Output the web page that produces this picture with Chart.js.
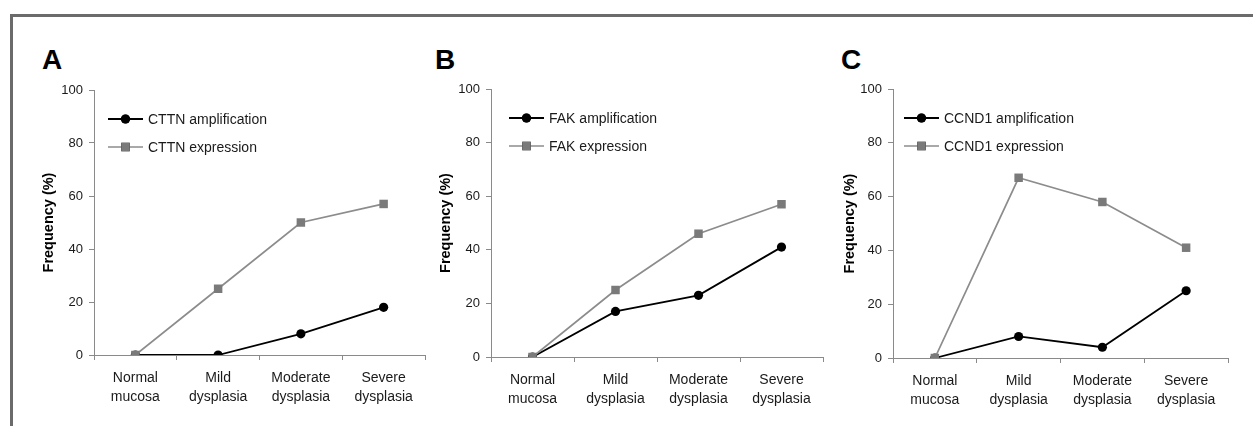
<!DOCTYPE html>
<html>
<head>
<meta charset="utf-8">
<script src="https://cdn.jsdelivr.net/npm/chart.js@4.4.1/dist/chart.umd.min.js"></script>
<style>
  html, body { margin: 0; padding: 0; background: #fff; overflow: hidden; }
  body { width: 1253px; height: 426px; position: relative; font-family: 'Liberation Sans', Arial, sans-serif; }
  .frame { position: absolute; left: 10px; top: 14px; right: 0; bottom: 0; border-top: 3px solid #6b6b6b; border-left: 3px solid #6b6b6b; }
  .letter { position: absolute; font-weight: bold; font-size: 28px; line-height: 28px; color: #000; }
  canvas { position: absolute; }
</style>
</head>
<body>
<div class="frame"></div>
<div class="letter" style="left:42px;top:46px">A</div>
<div class="letter" style="left:435px;top:46px">B</div>
<div class="letter" style="left:841px;top:46px">C</div>
<canvas id="chartA"></canvas>
<canvas id="chartB"></canvas>
<canvas id="chartC"></canvas>
<script>
// stages of the lesion, two lines per label
const stages = [['Normal', 'mucosa'], ['Mild', 'dysplasia'], ['Moderate', 'dysplasia'], ['Severe', 'dysplasia']];

// frequency (%) per stage
const cttnAmplification = [0, 0, 8, 18];
const cttnExpression = [0, 25, 50, 57];
const fakAmplification = [0, 17, 23, 41];
const fakExpression = [0, 25, 46, 57];
const ccnd1Amplification = [0, 8, 4, 25];
const ccnd1Expression = [0, 67, 58, 41];

const FONT = "'Liberation Sans', Arial, sans-serif";
const AXIS_GRAY = '#8a8a8a';
const Y_WIDTH = 74;   // room left of the y axis
const X_HEIGHT = 71;  // room below the x axis
const PAD_TOP = 29;

// little legend in the top-left corner of the plot
const cornerLegend = {
    id: 'cornerLegend',
    afterDraw(chart, args, opts) {
        const c = chart.ctx;
        const area = chart.chartArea;
        chart.data.datasets.forEach((ds, i) => {
            const x0 = area.left + opts.x;
            const y = area.top + opts.y + i * opts.gap;
            c.save();
            c.strokeStyle = ds.borderColor;
            c.lineWidth = ds.borderWidth;
            c.beginPath();
            c.moveTo(x0, y);
            c.lineTo(x0 + 35, y);
            c.stroke();
            Chart.helpers.drawPoint(c, {
                pointStyle: ds.pointStyle,
                radius: ds.pointRadius,
                borderWidth: 0
            }, x0 + 17.5, y);
            c.fillStyle = ds.pointBackgroundColor;
            c.fill();
            c.fillStyle = '#1a1a1a';
            c.font = '14px ' + FONT;
            c.textBaseline = 'middle';
            c.fillText(ds.label, x0 + 40, y + 1);
            c.restore();
        });
    }
};

function makePanel(id, box, gene, amp, expr) {
    const canvas = document.getElementById(id);
    canvas.width = Y_WIDTH + box.w;
    canvas.height = PAD_TOP + box.h + X_HEIGHT;
    canvas.style.left = (box.left - Y_WIDTH) + 'px';
    canvas.style.top = (box.top - PAD_TOP) + 'px';

    return new Chart(canvas.getContext('2d'), {
        type: 'line',
        data: {
            labels: stages,
            datasets: [
                {
                    label: gene + ' amplification',
                    data: amp,
                    borderColor: '#000',
                    borderWidth: 1.8,
                    pointStyle: 'circle',
                    pointRadius: 4.6,
                    pointBackgroundColor: '#000',
                    pointBorderWidth: 0,
                    order: 1
                },
                {
                    label: gene + ' expression',
                    data: expr,
                    borderColor: '#8c8c8c',
                    borderWidth: 1.7,
                    pointStyle: 'rect',
                    pointRadius: 6,
                    pointBackgroundColor: '#7a7a7a',
                    pointBorderWidth: 0,
                    order: 0
                }
            ]
        },
        options: {
            responsive: false,
            animation: false,
            devicePixelRatio: 1,
            layout: { padding: { top: PAD_TOP, left: 0, right: 0, bottom: 0 } },
            plugins: {
                legend: { display: false },
                tooltip: { enabled: false },
                cornerLegend: { x: box.legendX, y: 29, gap: 28 }
            },
            scales: {
                x: {
                    type: 'category',
                    offset: true,
                    grid: { display: true, drawOnChartArea: false, offset: true, tickLength: 5, color: AXIS_GRAY },
                    border: { color: AXIS_GRAY, width: 1 },
                    ticks: {
                        color: '#1a1a1a',
                        padding: 8,
                        maxRotation: 0,
                        autoSkip: false,
                        font: { family: FONT, size: 14, lineHeight: 1.38 }
                    },
                    afterFit(scale) { scale.height = X_HEIGHT; }
                },
                y: {
                    min: 0,
                    max: 100,
                    grid: { display: true, drawOnChartArea: false, tickLength: 5, color: AXIS_GRAY },
                    border: { color: AXIS_GRAY, width: 1 },
                    ticks: {
                        stepSize: 20,
                        color: '#1a1a1a',
                        padding: 6,
                        font: { family: FONT, size: 13 }
                    },
                    title: {
                        display: true,
                        text: 'Frequency (%)',
                        color: '#000',
                        padding: { top: box.titlePad, bottom: 0 },
                        font: { family: FONT, size: 14.5, weight: 'bold' }
                    },
                    afterFit(scale) { scale.width = Y_WIDTH; }
                }
            }
        },
        plugins: [cornerLegend]
    });
}

makePanel('chartA', { left: 94, top: 90, w: 337, h: 265, legendX: 14, titlePad: 20 }, 'CTTN', cttnAmplification, cttnExpression);
makePanel('chartB', { left: 491, top: 89, w: 338, h: 268, legendX: 18, titlePad: 20 }, 'FAK', fakAmplification, fakExpression);
makePanel('chartC', { left: 893, top: 89, w: 341, h: 269, legendX: 11, titlePad: 22 }, 'CCND1', ccnd1Amplification, ccnd1Expression);
</script>
</body>
</html>
